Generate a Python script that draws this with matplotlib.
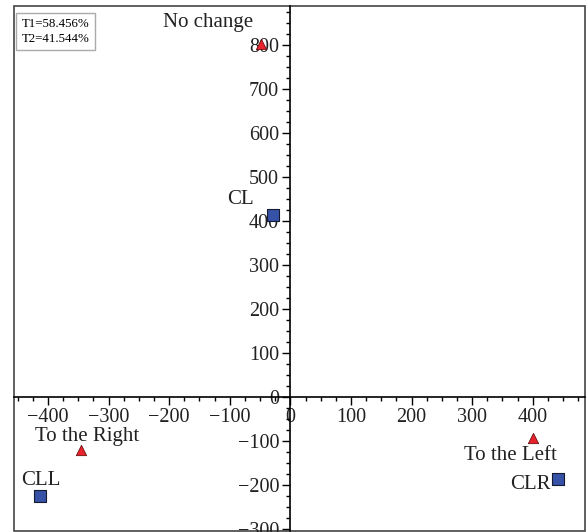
import numpy as np
import matplotlib
matplotlib.use("Agg")
import matplotlib.pyplot as plt
from matplotlib.patches import Rectangle
from matplotlib.ticker import MultipleLocator

plt.rcParams['font.family'] = ['Liberation Serif', 'DejaVu Serif']
plt.rcParams['axes.unicode_minus'] = True

# category points (triangles)
tri_names = ['No change', 'To the Right', 'To the Left']
tri_x = [-48, -345, 400]
tri_y = [802, -120, -93]
tri_off = [(-53, 22), (6, 13), (-22, -18)]

# class points (squares)
sq_names = ['CL', 'CLL', 'CLR']
sq_x = [-28, -413, 441]
sq_y = [414, -225, -186]
sq_off = [(-33, 15), (1, 15), (-27, -6)]

inertia = ['T1=58.456%', 'T2=41.544%']

fig = plt.figure(figsize=(5.86, 5.32), dpi=100)
ax = fig.add_axes([0.024, 0.002, 0.974, 0.987])

ax.scatter(tri_x, tri_y, marker='^', s=55, color='#e8232b', edgecolor='#6a1010',
           linewidth=0.6, zorder=5)
ax.scatter(sq_x, sq_y, marker='s', s=75, color='#3552a6', edgecolor='#151a30',
           linewidth=0.8, zorder=5)

for name, x, y, off in zip(tri_names + sq_names, tri_x + sq_x, tri_y + sq_y, tri_off + sq_off):
    ax.annotate(name, (x, y), xytext=off, textcoords='offset pixels',
                ha='center', va='center', fontsize=15, color='#222222', zorder=6)

ax.set_xlim(-456, 486)
ax.set_ylim(-305, 889)

for s in ['top', 'right']:
    ax.spines[s].set_visible(False)
ax.spines['left'].set_position(('data', 0))
ax.spines['bottom'].set_position(('data', 0))
ax.spines['left'].set_linewidth(1.2)
ax.spines['bottom'].set_linewidth(1.2)

ax.add_patch(Rectangle((0, 0), 1, 1, transform=ax.transAxes, fill=False,
                       edgecolor='#444444', linewidth=1.2, clip_on=False))

ax.xaxis.set_minor_locator(MultipleLocator(25))
ax.yaxis.set_minor_locator(MultipleLocator(25))
ax.set_xticks(np.arange(-400, 401, 100))
ax.set_yticks(np.arange(-300, 801, 100))
ax.tick_params(which='major', direction='out', length=6, width=1, labelsize=14.5,
               labelcolor='#222222')
ax.tick_params(which='minor', direction='out', length=3, width=1)
ax.tick_params(axis='x', pad=2)
ax.tick_params(axis='y', pad=2)

ax.text(0.013, 0.976, '\n'.join(inertia), transform=ax.transAxes, fontsize=9.3,
        va='top', ha='left', linespacing=1.25,
        bbox=dict(boxstyle='square,pad=0.4', facecolor='white', edgecolor='#aaaaaa',
                  linewidth=1))

fig.savefig('out.png', dpi=100)
